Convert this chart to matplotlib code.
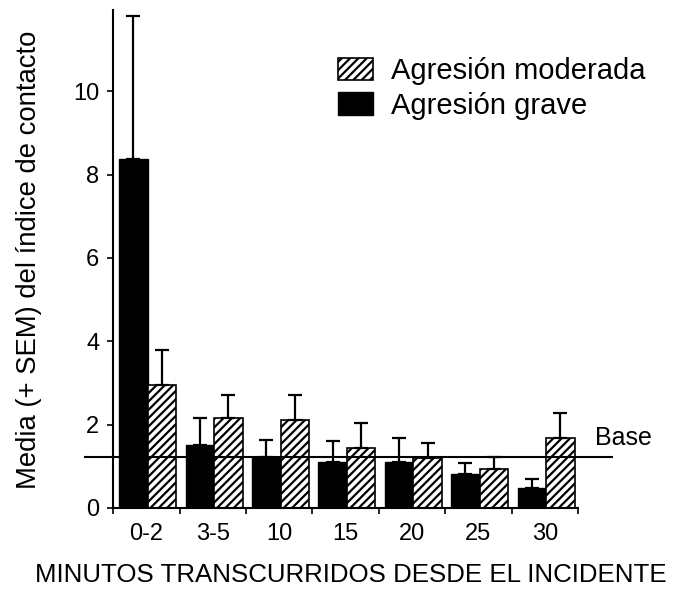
import numpy as np
import matplotlib
matplotlib.use("Agg")
import matplotlib.pyplot as plt

plt.rcParams['font.family'] = ['Liberation Sans', 'DejaVu Sans']
plt.rcParams['hatch.linewidth'] = 1.6

categorias = ['0-2', '3-5', '10', '15', '20', '25', '30']
grave = [8.37, 1.51, 1.23, 1.11, 1.11, 0.82, 0.47]
grave_sem = [3.43, 0.64, 0.39, 0.50, 0.56, 0.25, 0.22]
moderada = [2.95, 2.17, 2.12, 1.45, 1.19, 0.94, 1.67]
moderada_sem = [0.84, 0.54, 0.59, 0.60, 0.38, 0.28, 0.62]
base = 1.23

x = np.arange(len(categorias))
w = 0.43

fig = plt.figure(figsize=(6.82, 5.90), dpi=100)
ax = fig.add_axes([0.166, 0.139, 0.6815, 0.844])

ebar = dict(ecolor='black', elinewidth=1.6, capsize=5, capthick=1.6)
ax.bar(x - 0.195, grave, w, color='black', edgecolor='black', linewidth=1,
       yerr=[np.zeros(len(x)), grave_sem], error_kw=ebar, label='Agresión grave', zorder=2)
ax.bar(x + 0.235, moderada, w, color='white', edgecolor='black', linewidth=1.2,
       hatch='////', yerr=[np.zeros(len(x)), moderada_sem], error_kw=ebar,
       label='Agresión moderada', zorder=2)

# linea base
ax.plot([-0.92, 7.01], [base, base], color='black', lw=1.5, clip_on=False, zorder=3)
ax.text(6.756, base + 0.28, 'Base', fontsize=18, ha='left', va='baseline')

ax.set_xlim(-0.5, 6.5)
ax.set_ylim(0, 11.95)
ax.set_yticks([0, 2, 4, 6, 8, 10])
ax.tick_params(axis='y', labelsize=17, length=4, width=1.2, direction='out', pad=6)
ax.set_xticks(np.arange(-0.5, 7, 1))
ax.set_xticklabels([])
ax.set_xticks(x, minor=True)
ax.set_xticklabels(categorias, minor=True)
ax.tick_params(axis='x', which='major', length=4, width=1.2, direction='out')
ax.tick_params(axis='x', which='minor', length=0, labelsize=17, pad=11)

for s in ['top', 'right']:
    ax.spines[s].set_visible(False)
ax.spines['left'].set_linewidth(1.5)
ax.spines['bottom'].set_linewidth(1.5)

ax.set_xlabel('MINUTOS TRANSCURRIDOS DESDE EL INCIDENTE', fontsize=18.6)
ax.xaxis.set_label_coords(0.512, -0.1345)
ax.xaxis.label.set_verticalalignment('center')
ax.set_ylabel('Media (+ SEM) del índice de contacto', fontsize=19.8)
ax.yaxis.set_label_coords(-0.182, 0.498)
ax.yaxis.label.set_verticalalignment('center')

h, l = ax.get_legend_handles_labels()
ax.legend(h[::-1], l[::-1], loc='upper left', bbox_to_anchor=(0.428, 0.958),
          frameon=False, fontsize=21, handlelength=1.2, handleheight=0.79,
          handletextpad=0.62, labelspacing=0.22)

fig.savefig('out.png', dpi=100)
